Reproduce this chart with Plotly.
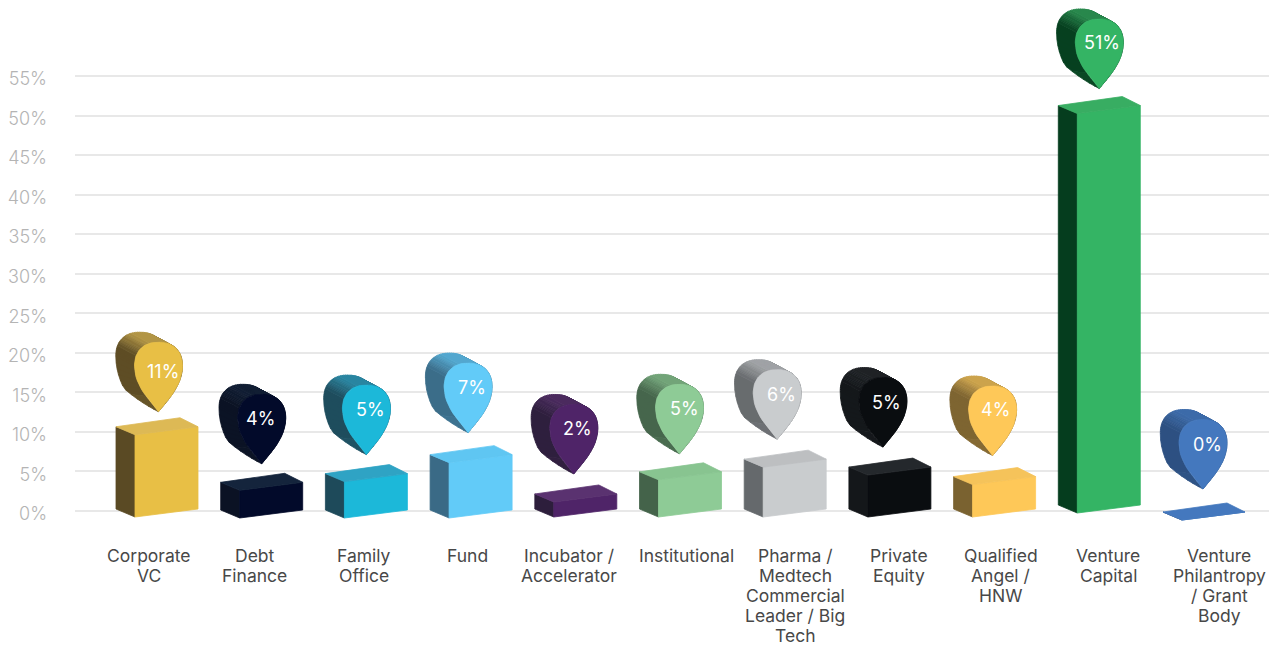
import math
import plotly.graph_objects as go

# ---------- data ----------
categories = ["Corporate<br>VC", "Debt<br>Finance", "Family<br>Office", "Fund",
              "Incubator /<br>Accelerator", "Institutional",
              "Pharma /<br>Medtech<br>Commercial<br>Leader / Big<br>Tech",
              "Private<br>Equity", "Qualified<br>Angel /<br>HNW", "Venture<br>Capital",
              "Venture<br>Philantropy<br>/ Grant<br>Body"]
bar_values = [10.4, 3.5, 4.6, 7.0, 1.9, 4.7, 6.3, 5.3, 4.1, 50.5, 0.0]
value_labels = ["11%", "4%", "5%", "7%", "2%", "5%", "6%", "5%", "4%", "51%", "0%"]
tick_values = [0, 5, 10, 15, 20, 25, 30, 35, 40, 45, 50, 55]
tick_labels = ["0%", "5%", "10%", "15%", "20%", "25%", "30%", "35%", "40%", "45%", "50%", "55%"]

# ---------- styling ----------
front_colors = ["#E8BF45", "#020A2A", "#1CB8D9", "#62CBF8", "#4F2468", "#8ECB96",
                "#C9CCCE", "#0A0D10", "#FEC858", "#34B464", "#4478BE"]
side_colors = ["#5A4A24", "#0B1224", "#1E4A5A", "#3A6A86", "#2D1E3C", "#44634A",
               "#65696C", "#14171A", "#7A6230", "#053D1E", "#2C4F80"]
top_colors = ["#DDB955", "#14243C", "#2FA3C4", "#5FC6F2", "#5A3270", "#88C490",
              "#BDBFC1", "#24282C", "#F5C35A", "#38AD62", "#4478BE"]
label_dx = [-8, -7, -2, -4, -7, 6, 10, 9, 6, 9, 15]      # px
base_dy = [0, 1, 1, 1, 0, 0, 0, 0, 0, -4, 3]             # px
pin_dx = [1.5, 0, 0, -3, -2, -1, -8, -7, -2, 0, -1]      # px, tip vs bar centre
pin_gap = [6, 9.5, 10, 13, 11, 9, 11, 11, 12, 8, 14]     # px above the bar's back corner
text_dx = [4.5, -1, 4, 4, 4, 5, 4, 4, 3, 3, 4]           # px
text_dy = [-40, -45, -45, -45, -45, -45, -45, -45, -46, -46, -45]

PX_PER_CAT = 104.7
PX_PER_UNIT = 7.91
X0_PX, Y0_PX = 157.0, 511.0
LABEL_TOP_PX, LABEL_STEP_PX = 555.0, 20.2


def dx(p):
    return p / PX_PER_CAT


def dy(p):  # positive p = downward on screen
    return -p / PX_PER_UNIT


def mix(a, b, t):
    ca = [int(a[i:i + 2], 16) for i in (1, 3, 5)]
    cb = [int(b[i:i + 2], 16) for i in (1, 3, 5)]
    return "#%02X%02X%02X" % tuple(round(x + (y - x) * t) for x, y in zip(ca, cb))


def poly(fig, xs, ys, color):
    fig.add_trace(go.Scatter(x=xs, y=ys, mode="lines", fill="toself", fillcolor=color,
                             line=dict(color=color, width=0.8), hoverinfo="skip",
                             showlegend=False))


def teardrop(r=24.0, cy=-45.5, n_arc=48, n_side=12, n=2.3):
    """Outline in screen px relative to the tip (y down), clockwise on screen:
    (x, y, extrusion x, extrusion y). The extrusion tapers towards the tip."""
    def flank(t):
        a, b, c, d = (1 - t) ** 3, 3 * t * (1 - t) ** 2, 3 * t * t * (1 - t), t ** 3
        x = b * -8 + c * -r + d * -r
        y = b * -10 + c * -26 + d * cy
        return x, y, -18.7 * min(1.0, t * 1.9), -10.0 * t * t

    pts = []
    for k in range(n_side):
        pts.append(flank(k / n_side))
    for k in range(n_arc + 1):
        a = math.pi * k / n_arc
        ca, sa = math.cos(a), math.sin(a)
        x = -r * math.copysign(abs(ca) ** (2 / n), ca)
        y = cy - r * abs(sa) ** (2 / n)
        pts.append((x, y, -18.7, -10.0))
    for k in range(n_side - 1, -1, -1):
        x, y, sx, sy = flank(k / n_side)
        pts.append((-x, y, sx, sy))
    return pts


N_BANDS = 12

fig = go.Figure()

for i, v in enumerate(bar_values):
    c = i
    b = base_dy[i]
    # corners in px offsets from (bar centre, baseline)
    bl, fl, fr, br = -41.0, -22.0, 41.0, 23.0
    y_fl_b, y_fr_b = 6 + b, -2 + b
    # side face
    poly(fig,
         [c + dx(bl), c + dx(fl), c + dx(fl), c + dx(bl), c + dx(bl)],
         [dy(y_fr_b), dy(y_fl_b), v + dy(y_fl_b), v + dy(y_fr_b), dy(y_fr_b)],
         side_colors[i])
    # front face
    poly(fig,
         [c + dx(fl), c + dx(fr), c + dx(fr), c + dx(fl), c + dx(fl)],
         [dy(y_fl_b), dy(y_fr_b), v + dy(y_fr_b), v + dy(y_fl_b), dy(y_fl_b)],
         front_colors[i])
    # top face
    poly(fig,
         [c + dx(bl), c + dx(br), c + dx(fr), c + dx(fl), c + dx(bl)],
         [v + dy(y_fr_b), v + dy(y_fr_b - 9), v + dy(y_fr_b), v + dy(y_fl_b), v + dy(y_fr_b)],
         top_colors[i])

    # pin
    tip_x = c + dx(pin_dx[i])
    tip_y = v + dy(y_fr_b - 9 - pin_gap[i])
    outline = teardrop()
    dark = side_colors[i]
    light = mix(top_colors[i], side_colors[i], 0.3)
    bands = [([], []) for _ in range(N_BANDS)]
    for (x1, y1, sx1, sy1), (x2, y2, sx2, sy2) in zip(outline[:-1], outline[1:]):
        ex, ey = x2 - x1, y2 - y1
        ln = math.hypot(ex, ey) or 1
        up = ex / ln  # upward component of the outward normal
        t = max(0.0, up) ** 2.2 + 0.14 * max(0.0, -up)
        k = min(N_BANDS - 1, int(t * N_BANDS))
        qx = [x1, x2, x2 + sx2, x1 + sx1, x1]
        qy = [y1, y2, y2 + sy2, y1 + sy1, y1]
        bands[k][0].extend([tip_x + dx(p) for p in qx] + [None])
        bands[k][1].extend([tip_y + dy(p) for p in qy] + [None])
    for k, (bx, by) in enumerate(bands):
        if bx:
            poly(fig, bx, by, mix(dark, light, (k + 0.5) / N_BANDS))
    poly(fig,
         [tip_x + dx(p[0]) for p in outline] + [tip_x],
         [tip_y + dy(p[1]) for p in outline] + [tip_y],
         front_colors[i])

    for n, line in enumerate(categories[i].split("<br>")):
        fig.add_annotation(x=c, y=dy(LABEL_TOP_PX + n * LABEL_STEP_PX - Y0_PX), xref="x", yref="y",
                           xshift=label_dx[i], text=line, showarrow=False,
                           xanchor="center", yanchor="middle", align="center",
                           font=dict(family="Inter, sans-serif", size=17.5, color="#484848"))
    fig.add_annotation(x=tip_x + dx(text_dx[i]), y=tip_y + dy(text_dy[i]), xref="x", yref="y",
                       text=value_labels[i], showarrow=False, xanchor="center", yanchor="middle",
                       font=dict(family="Inter, sans-serif", size=18, color="#FFFFFF"))

fig.update_layout(
    width=1269, height=646, margin=dict(l=75, r=0, t=0, b=0, pad=0),
    paper_bgcolor="#FFFFFF", plot_bgcolor="#FFFFFF", showlegend=False,
    xaxis=dict(range=[(75 - X0_PX) / PX_PER_CAT, (1269 - X0_PX) / PX_PER_CAT],
               visible=False, fixedrange=True),
    yaxis=dict(range=[(Y0_PX - 646) / PX_PER_UNIT, Y0_PX / PX_PER_UNIT],
               tickvals=tick_values, ticktext=tick_labels, showgrid=True,
               gridcolor="#E8E8E8", gridwidth=2, zeroline=False, showline=False,
               ticks="", ticklabelstandoff=27, ticklabelshift=3,
               tickfont=dict(family="Inter, sans-serif", size=18, weight=300, color="#B4B4B4"),
               fixedrange=True),
)
fig.write_html("out.html", config={"displayModeBar": False},
               post_script="document.body.style.margin='0';document.body.style.overflow='hidden';")
